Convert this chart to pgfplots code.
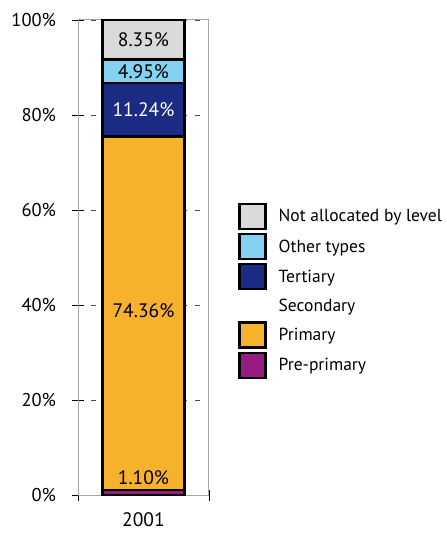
\documentclass[border=0pt]{standalone}
\usepackage{fontspec}
\setmainfont{PT Sans}
\usepackage{pgfplots}
\pgfplotsset{compat=1.18}
\definecolor{cNA}{HTML}{D9DADB}
\definecolor{cOther}{HTML}{84D2F1}
\definecolor{cTert}{HTML}{1B2A83}
\definecolor{cPrim}{HTML}{F6B12D}
\definecolor{cPre}{HTML}{961C82}
\definecolor{axgray}{HTML}{A6A6A6}
\pgfplotsset{
  mybar/.style={fill=#1, draw=black, line width=2.4bp,
    legend image code/.code={\draw[##1,line width=2.2bp] (0bp,-12.5bp) rectangle (26bp,12.5bp); \path (36bp,0bp);}},
}
\begin{document}
\begin{tikzpicture}
\path[use as bounding box] (-78bp,-39bp) rectangle (369bp,495bp);
\begin{axis}[
  at={(0,0)}, anchor=south west,
  scale only axis, width=131bp, height=475bp,
  xmin=-0.5, xmax=0.5, ymin=0, ymax=100,
  ybar stacked, bar width=82bp,
  xtick={-0.5,0.5}, xticklabels={},
  extra x ticks={0}, extra x tick labels={2001},
  extra x tick style={major tick length=0pt, xticklabel style={yshift=-14bp}},
  ytick={0,20,40,60,80,100},
  yticklabel={\pgfmathprintnumber{\tick}\%},
  /pgf/number format/assume math mode=true,
  ytick pos=left, xtick pos=bottom,
  tick align=center, major tick length=11bp,
  tick style={black, line width=0.8bp},
  axis line style={axgray, line width=1bp},
  ymajorgrids,
  grid style={black!70, line width=0.6bp, dash pattern=on 5bp off 8bp},
  ticklabel style={font=\fontsize{18.5bp}{20bp}\selectfont},
  xticklabel style={font=\fontsize{19.5bp}{22bp}\selectfont},
  yticklabel style={xshift=-13bp},
  legend style={at={(rel axis cs:1.20,0.43)}, anchor=west, draw=none, fill=none,
    font=\fontsize{17.5bp}{20bp}\selectfont, row sep=3bp},
  legend cell align=left,
  reverse legend,
]
\addplot[mybar=cPre] coordinates {(0,1.10)};
\addlegendentry{Pre-primary}
\addplot[mybar=cPrim] coordinates {(0,74.36)};
\addlegendentry{Primary}
\addlegendimage{draw=none, fill=none, legend image code/.code={\path (0bp,-12.5bp) rectangle (36bp,12.5bp);}}
\addlegendentry{Secondary}
\addplot[mybar=cTert] coordinates {(0,11.24)};
\addlegendentry{Tertiary}
\addplot[mybar=cOther] coordinates {(0,4.95)};
\addlegendentry{Other types}
\addplot[mybar=cNA] coordinates {(0,8.35)};
\addlegendentry{Not allocated by level}
\coordinate (lNA) at (axis cs:0,95.8);
\coordinate (lOT) at (axis cs:0,89.2);
\coordinate (lTE) at (axis cs:0,81.1);
\coordinate (lPR) at (axis cs:0,38.8);
\coordinate (lPP) at (axis cs:0,3.6);
\end{axis}
\begin{scope}[every node/.style={font=\fontsize{19.5bp}{22bp}\selectfont}]
\node at (lNA) {8.35\%};
\node at (lOT) {4.95\%};
\node[white] at (lTE) {11.24\%};
\node at (lPR) {74.36\%};
\node at (lPP) {1.10\%};
\end{scope}
\end{tikzpicture}
\end{document}
